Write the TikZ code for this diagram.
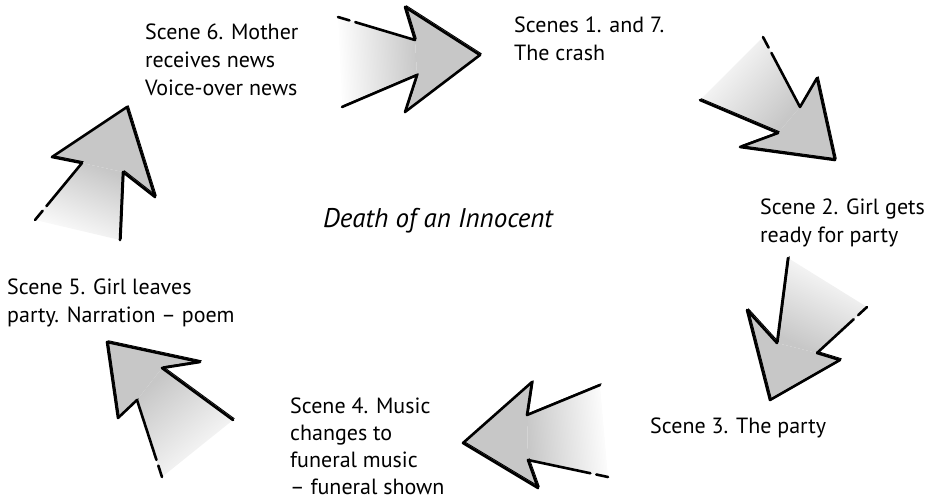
\documentclass[tikz,border=0pt]{standalone}
\usepackage{fontspec}
\setmainfont{PT Sans}
\usetikzlibrary{calc}

\begin{document}
\begin{tikzpicture}[x=1pt, y=-1pt,
	scenetext/.style={anchor=north west, inner sep=0pt, align=left, font=\fontsize{22}{28}\selectfont},
	headfill/.style={fill=black!22},
	brush/.style={line width=2.6pt, line join=round, line cap=round},
	rough/.style={line width=0.9pt, line join=round, line cap=round, transform canvas={shift={(1.3pt,1.3pt)}}}]
	\useasboundingbox (0,0) rectangle (927,501);

	% sketchy arrow: tail, notch, corner of the left side, tip, corner, notch, tail of the right side, shading angle
	\def\sketcharrow#1#2#3#4#5#6#7#8{
		\shade[top color=black!22, bottom color=white, shading angle=#8] (#1) -- (#2) -- (#6) -- (#7) -- cycle;
		\fill[headfill] (#2) -- (#3) -- (#4) -- (#5) -- (#6) -- cycle;
		\draw[brush, dash pattern=on 12pt off 6pt on 400pt off 1pt] (#1) -- (#2);
		\draw[brush] (#2) -- (#3) -- (#4) -- (#5) -- (#6) -- (#7);
		\draw[rough] (#2) -- (#3) -- (#4) -- (#5) -- (#6) -- (#7);
	}

	% title
	\node[inner sep=0pt, font=\itshape\fontsize{27}{30}\selectfont] (title) at (438,221) {Death of an Innocent};

	% scenes
	\node[scenetext] (crash) at (514,17) {Scenes 1. and 7.\\The crash};
	\node[scenetext] (girl) at (760,199) {Scene 2. Girl gets\\ready for party};
	\node[scenetext] (party) at (650,418) {Scene 3. The party};
	\node[scenetext, font=\fontsize{22}{27}\selectfont] (funeral) at (290,398) {Scene 4. Music\\changes to\\funeral music\\-- funeral shown};
	\node[scenetext] (leaves) at (7,279) {Scene 5. Girl leaves\\party. Narration -- poem};
	\node[scenetext] (mother) at (145,24) {Scene 6. Mother\\receives news\\Voice-over news};

	% arrows round the circle
	\sketcharrow{338,17}{415,40}{405,7}{480,55}{405,112}{417,75}{342,107}{-87}
	\sketcharrow{763,37}{800,107}{817,78}{835,160}{740,147}{778,133}{700,100}{-131}
	\sketcharrow{867,307}{817,353}{840,360}{770,400}{747,310}{777,343}{788,258}{154}
	\sketcharrow{608,477}{528,460}{538,488}{463,443}{532,382}{527,415}{600,385}{95}
	\sketcharrow{162,477}{137,400}{118,418}{107,342}{200,362}{162,368}{233,420}{40}
	\sketcharrow{35,220}{82,163}{52,157}{127,107}{155,197}{123,172}{120,240}{-22}
\end{tikzpicture}
\end{document}
